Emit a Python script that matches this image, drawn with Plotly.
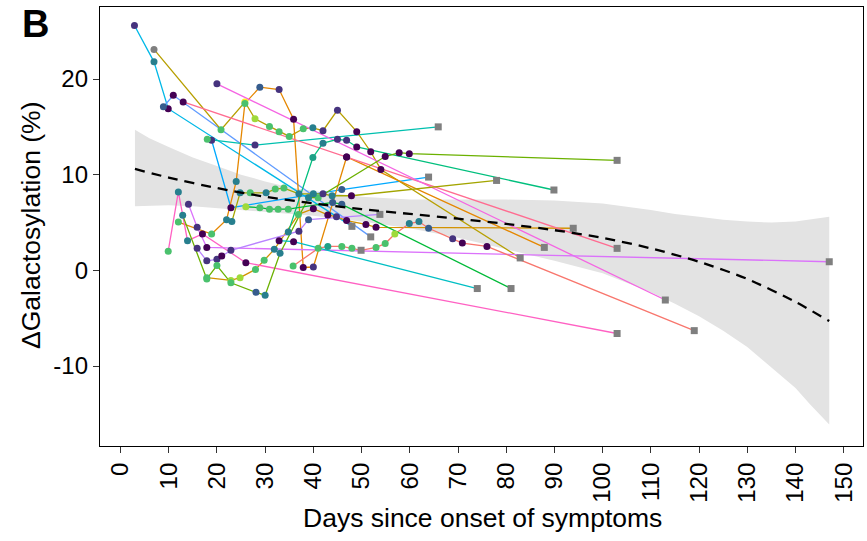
import plotly.graph_objects as go

# ---------------- smoothed trend with confidence band ----------------
trend_days = [3, 10, 20, 30, 40, 50, 60, 70, 80, 90, 100, 110, 120, 130, 140, 147]
trend_fit = [10.6, 9.7, 8.6, 7.7, 7.0, 6.4, 5.9, 5.4, 4.85, 4.2, 3.4, 2.3, 0.9, -0.9, -3.3, -5.3]

band_days = [3, 6, 10, 15, 20, 25, 30, 35, 40, 50, 60, 70, 80, 90, 100, 110, 115,
             120, 125, 130, 135, 140, 143, 147]
band_upper = [14.7, 13.8, 12.9, 11.8, 10.9, 10.0, 9.3, 8.7, 8.3, 7.7, 7.4, 7.4, 7.4, 7.3,
              7.0, 6.3, 5.9, 5.6, 5.3, 5.1, 5.0, 5.1, 5.3, 5.6]
band_lower = [6.7, 6.75, 6.8, 6.7, 6.5, 6.3, 6.1, 5.9, 5.7, 5.1, 4.4, 3.4, 2.2, 1.0,
              -0.3, -2.3, -3.5, -4.8, -6.3, -8.0, -10.1, -12.3, -14.0, -16.1]

# ---------------- patient trajectories ----------------
# days since onset, delta galactosylation (%), severity score (None = not scored)
pA_days = [2.9, 6.95, 9.9, 48.0]
pA_gal = [25.6, 21.8, 16.9, 4.6]
pA_score = [1, 3, 0, None]

pB_days = [8.9, 10.95, 51.9]
pB_gal = [17.1, 18.3, 3.5]
pB_score = [2, 0, None]

pC_days = [18.9, 22.9, 45.9, 63.9]
pC_gal = [13.6, 6.55, 8.45, 9.75]
pC_score = [1, 0, 2, None]

pD_days = [18.0, 27.9, 65.9]
pD_gal = [13.7, 13.1, 15.0]
pD_score = [5, 1, None]

pE_days = [6.95, 20.85, 25.8, 27.9, 30.9, 32.9, 35.0, 37.9, 39.9, 42.0, 45.0, 49.0, 51.9, 54.0, 82.9]
pE_gal = [23.1, 14.7, 17.6, 15.85, 15.05, 14.5, 14.0, 14.8, 14.9, 14.6, 16.75, 14.5, 12.4, 10.55, 1.3]
pE_score = [None, 5, 7, 6, 5, 5, 5, 5, 3, 1, 1, 0, 0, 0, None]

pF_days = [12.0, 18.9, 22.0, 24.0, 25.8, 28.9, 32.9, 35.9, 37.9, 40.0, 46.9, 87.9]
pF_gal = [5.05, 3.8, 5.3, 9.3, 17.45, 19.15, 18.9, 15.8, 0.3, 0.35, 11.85, 2.4]
pF_score = [5, 5, 3, 3, 5, 2, 1, 0, 0, 1, 0, None]

pG_days = [17.9, 22.9, 24.8, 28.0, 29.8, 31.9, 36.9, 40.0, 43.0, 44.8, 46.9, 50.9, 53.0, 93.9]
pG_gal = [-0.76, -1.05, -0.76, 0.1, 1.05, 2.2, 5.85, 6.45, 5.8, 5.6, 5.2, 4.8, 4.5, 4.4]
pG_score = [5, 6, 6, 5, 5, 3, 5, 0, 0, 1, 0, 0, 0, None]

pH_days = [13.0, 46.9, 103.0]
pH_gal = [17.6, 11.85, 2.3]
pH_score = [0, 0, None]

pI_days = [20.0, 113.0]
pI_gal = [19.5, -3.1]
pI_score = [1, None]

pJ_days = [9.9, 12.0, 13.9, 17.0, 26.0, 103.0]
pJ_gal = [2.0, 8.2, 3.1, 3.8, 0.8, -6.6]
pJ_score = [5, 3, 3, 0, 0, None]

pK_days = [14.1, 15.9, 17.9, 147.0]
pK_gal = [6.9, 4.5, 2.4, 0.9]
pK_score = [1, 1, 0, None]

pL_days = [15.9, 17.9, 20.0, 21.0, 22.9, 37.0, 39.0, 53.8]
pL_gal = [2.3, 1.0, 1.15, 1.5, 2.1, 4.1, 5.3, 5.85]
pL_score = [1, 1, 1, 0, 1, 1, 2, None]

pM_days = [35.8, 41.0, 43.0, 45.9, 48.0, 49.9, 53.0, 54.9, 56.9, 59.9, 61.9, 63.9, 68.9, 70.9, 76.0, 119.0]
pM_gal = [0.45, 2.3, 2.5, 2.5, 2.3, 2.1, 2.4, 2.8, 3.8, 4.9, 5.1, 4.4, 3.3, 2.85, 2.5, -6.3]
pM_score = [5, 5, 4, 5, 5, None, 5, 5, 6, 3, 3, 2, 1, 0, 0, None]

pN_days = [34.8, 39.9, 42.0, 45.0, 46.9, 49.0, 89.9]
pN_gal = [4.0, 11.8, 13.3, 13.7, 13.6, 12.9, 8.4]
pN_score = [3, 4, 3, 1, 1, 0, None]

pO_days = [12.9, 17.9, 20.0, 22.9, 28.1, 30.0, 33.1, 39.0, 41.0, 54.9, 57.8, 59.9, 103.0]
pO_gal = [5.75, -0.9, 0.5, -1.3, -2.3, -2.6, 1.8, 7.6, 7.6, 11.9, 12.3, 12.2, 11.5]
pO_score = [3, 5, 5, 5, 2, 3, 3, 3, 5, 0, 0, 0, None]

pP_days = [23.1, 24.8, 26.9, 30.2, 32.1, 33.9, 37.0, 40.0, 42.0, 43.9, 47.9, 78.0]
pP_gal = [5.1, 8.1, 8.1, 8.1, 8.5, 8.6, 8.0, 8.0, 8.0, 7.8, 7.8, 9.4]
pP_score = [3, 3, 5, 3, 5, 5, 3, 3, 1, 3, 0, None]

pQ_days = [26.0, 28.9, 30.9, 32.7, 34.8, 44.0, 45.9, 81.0]
pQ_gal = [6.65, 6.55, 6.4, 6.4, 6.4, 7.1, 6.9, -1.9]
pQ_score = [6, 5, 5, 5, 5, 2, 2, None]

pR_days = [32.9, 35.9, 74.0]
pR_gal = [3.1, 3.0, -1.9]
pR_score = [0, 0, None]

patients = [
    (pA_days, pA_gal, pA_score, "#00B8E7"),
    (pB_days, pB_gal, pB_score, "#619CFF"),
    (pC_days, pC_gal, pC_score, "#00A9FF"),
    (pD_days, pD_gal, pD_score, "#00C0AF"),
    (pE_days, pE_gal, pE_score, "#B79F00"),
    (pF_days, pF_gal, pF_score, "#E58700"),
    (pG_days, pG_gal, pG_score, "#D39200"),
    (pH_days, pH_gal, pH_score, "#FF6C91"),
    (pI_days, pI_gal, pI_score, "#F564E3"),
    (pJ_days, pJ_gal, pJ_score, "#FF61C3"),
    (pK_days, pK_gal, pK_score, "#DB72FB"),
    (pL_days, pL_gal, pL_score, "#B983FF"),
    (pM_days, pM_gal, pM_score, "#F8766D"),
    (pN_days, pN_gal, pN_score, "#00BF7D"),
    (pO_days, pO_gal, pO_score, "#6BB100"),
    (pP_days, pP_gal, pP_score, "#A3A500"),
    (pQ_days, pQ_gal, pQ_score, "#00BA38"),
    (pR_days, pR_gal, pR_score, "#00BFC4"),
]

x_ticks = list(range(0, 151, 10))
y_ticks = [-10, 0, 10, 20]
y_tick_text = ["-10", "0", "10", "20"]

# viridis steps for the severity score, grey for unscored samples
VIRIDIS = ["#440154", "#46337E", "#365C8D", "#277F8E", "#1FA187", "#4AC16D", "#9FDA3A", "#FDE725"]
NA_GREY = "#7F7F7F"

W, H = 867, 541
L, R, T, B = 100, 4, 7, 95


def paper_x(px):
    return (px - L) / (W - L - R)


def paper_y(py):
    return (H - B - py) / (H - T - B)


fig = go.Figure()

# confidence band
fig.add_trace(go.Scatter(
    x=band_days + band_days[::-1],
    y=band_upper + band_lower[::-1],
    fill="toself", fillcolor="#E3E3E3", line=dict(width=0),
    mode="lines", hoverinfo="skip", showlegend=False,
))

# patient lines
for days, gal, score, col in patients:
    fig.add_trace(go.Scatter(
        x=days, y=gal, mode="lines",
        line=dict(color=col, width=1.3),
        showlegend=False, hoverinfo="skip",
    ))

# patient points
for days, gal, score, col in patients:
    colors = [NA_GREY if s is None else VIRIDIS[s] for s in score]
    symbols = ["square" if (s is None and i > 0) else "circle" for i, s in enumerate(score)]
    fig.add_trace(go.Scatter(
        x=days, y=gal, mode="markers",
        marker=dict(color=colors, symbol=symbols, size=7, line=dict(width=0)),
        showlegend=False,
    ))

# fitted trend
fig.add_trace(go.Scatter(
    x=trend_days, y=trend_fit, mode="lines",
    line=dict(color="black", width=2.3, dash="10px,7px", shape="spline", smoothing=0.8),
    showlegend=False, hoverinfo="skip",
))

axis_common = dict(
    showline=True, linecolor="black", linewidth=1.3, mirror=True,
    ticks="outside", ticklen=6, tickwidth=1.2, tickcolor="#333333",
    showgrid=False, zeroline=False,
    tickfont=dict(family="Liberation Sans, Arial", size=24, color="black"),
)

fig.update_layout(
    width=W, height=H,
    margin=dict(l=L, r=R, t=T, b=B),
    paper_bgcolor="white", plot_bgcolor="white",
    xaxis=dict(range=[-4.25, 154.0], tickvals=x_ticks, tickangle=-90, **axis_common),
    yaxis=dict(range=[-18.36, 27.53], tickvals=y_ticks, ticktext=y_tick_text, **axis_common),
    annotations=[
        dict(text="Days since onset of symptoms", x=paper_x(482), y=paper_y(518),
             xref="paper", yref="paper", xanchor="center", yanchor="middle", showarrow=False,
             font=dict(family="Liberation Sans, Arial", size=26.5, color="black")),
        dict(text="ΔGalactosylation (%)", x=paper_x(31), y=paper_y(226), textangle=-90,
             xref="paper", yref="paper", xanchor="center", yanchor="middle", showarrow=False,
             font=dict(family="Liberation Sans, Arial", size=26.5, color="black")),
        dict(text="<b>B</b>", x=paper_x(20), y=paper_y(24),
             xref="paper", yref="paper", xanchor="left", yanchor="middle", showarrow=False,
             font=dict(family="Liberation Sans, Arial", size=38, color="black")),
    ],
)

fig.write_html("out.html")
